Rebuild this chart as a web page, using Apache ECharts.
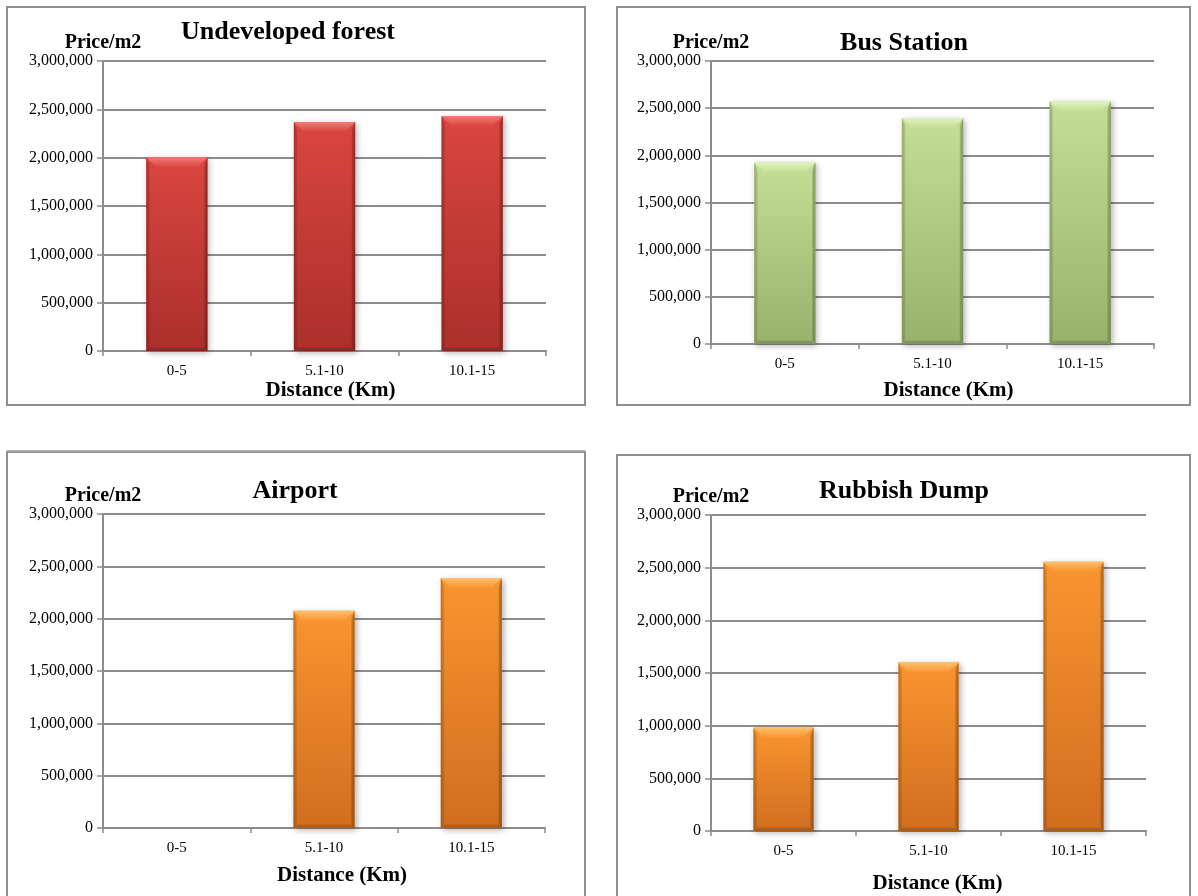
<!DOCTYPE html>
<html>
<head>
<meta charset="utf-8">
<script src="https://cdn.jsdelivr.net/npm/echarts@6/dist/echarts.min.js"></script>
<style>
  html, body { margin: 0; padding: 0; background: #ffffff; }
  #chart { width: 1198px; height: 896px; }
</style>
</head>
<body>
<div id="chart"></div>
<script>
// Land price per m2 by distance band from four kinds of facility
const distanceBands = ['0-5', '5.1-10', '10.1-15'];
const panelTitles = ['Undeveloped forest', 'Bus Station', 'Airport', 'Rubbish Dump'];
const forestPrice = [2005000, 2370000, 2430000];
const busStationPrice = [1926000, 2396000, 2572000];
const airportPrice = [null, 2075000, 2388000];
const dumpPrice = [982000, 1600000, 2557000];
const priceTicks = [0, 500000, 1000000, 1500000, 2000000, 2500000, 3000000];

const FONT = "'Liberation Serif', 'Times New Roman', serif";
const GRID_GRAY = '#8c8c8c';

// bar palettes: body top/bottom, bevel highlight, edge shade
const palettes = {
  red:    { top: '#d9463f', bottom: '#ab2f2b', bevel: '#f27c74', edge: '#7d1d1b' },
  green:  { top: '#c4de95', bottom: '#98b26b', bevel: '#e2f3bf', edge: '#6f8a4a' },
  orange: { top: '#f9952f', bottom: '#d06e1f', bevel: '#ffc070', edge: '#97500f' }
};

// panel layout: frame box, plot box, and text anchors
const panels = [
  { values: forestPrice, pal: 'red',
    frame: [7, 7, 578, 398], grid: [103, 61, 443, 290],
    title: [288, 32], nameGap: 29, nameShift: 6 },
  { values: busStationPrice, pal: 'green',
    frame: [617, 7, 573, 398], grid: [711, 61, 443, 283],
    title: [904, 43], nameGap: 36, nameShift: 16 },
  { values: airportPrice, pal: 'orange',
    frame: [7, 452, 578, 460], grid: [103, 514, 442, 314],
    title: [295, 491], nameGap: 37, nameShift: 18 },
  { values: dumpPrice, pal: 'orange',
    frame: [617, 455, 573, 460], grid: [711, 515, 435, 316],
    title: [904, 491], nameGap: 42, nameShift: 9 }
];

function fmt(v) {
  return v.toLocaleString('en-US');
}

function makeRenderer(pal) {
  return function (params, api) {
    const v = api.value(1);
    if (v == null || isNaN(v)) return null;
    const idx = api.value(0);
    const topPt = api.coord([idx, v]);
    const basePt = api.coord([idx, 0]);
    const w = api.size([1, 0])[0] * 0.415;
    const x0 = topPt[0] - w / 2;
    const x1 = x0 + w;
    const y0 = topPt[1];
    const y1 = basePt[1];
    const h = y1 - y0;
    const b = Math.min(10, h / 3);
    const side = 4;
    return {
      type: 'group',
      children: [
        {
          type: 'rect',
          shape: { x: x0, y: y0, width: w, height: h },
          style: {
            fill: new echarts.graphic.LinearGradient(0, 0, 0, 1, [
              { offset: 0, color: pal.top },
              { offset: 1, color: pal.bottom }
            ]),
            shadowBlur: 6,
            shadowColor: 'rgba(0,0,0,0.3)',
            shadowOffsetX: 2,
            shadowOffsetY: 2
          }
        },
        {
          // top bevel
          type: 'polygon',
          shape: { points: [[x0, y0], [x1, y0], [x1 - b, y0 + b], [x0 + b, y0 + b]] },
          style: {
            fill: new echarts.graphic.LinearGradient(0, 0, 0, 1, [
              { offset: 0, color: pal.bevel },
              { offset: 1, color: pal.top }
            ])
          }
        },
        {
          // left edge shade
          type: 'polygon',
          shape: { points: [[x0, y0], [x0 + side, y0 + b], [x0 + side, y1 - side], [x0, y1]] },
          style: {
            fill: new echarts.graphic.LinearGradient(0, 0, 1, 0, [
              { offset: 0, color: pal.edge },
              { offset: 1, color: 'rgba(0,0,0,0)' }
            ]),
            opacity: 0.45
          }
        },
        {
          // right edge shade
          type: 'polygon',
          shape: { points: [[x1, y0], [x1 - side, y0 + b], [x1 - side, y1 - side], [x1, y1]] },
          style: {
            fill: new echarts.graphic.LinearGradient(1, 0, 0, 0, [
              { offset: 0, color: pal.edge },
              { offset: 1, color: 'rgba(0,0,0,0)' }
            ]),
            opacity: 0.65
          }
        },
        {
          // bottom edge shade
          type: 'polygon',
          shape: { points: [[x0, y1], [x0 + side, y1 - side], [x1 - side, y1 - side], [x1, y1]] },
          style: {
            fill: new echarts.graphic.LinearGradient(0, 1, 0, 0, [
              { offset: 0, color: pal.edge },
              { offset: 1, color: 'rgba(0,0,0,0)' }
            ]),
            opacity: 0.5
          }
        }
      ]
    };
  };
}

const grids = [], xAxes = [], yAxes = [], series = [], graphics = [];

panels.forEach(function (p, i) {
  grids.push({ left: p.grid[0], top: p.grid[1], width: p.grid[2], height: p.grid[3], containLabel: false });

  xAxes.push({
    type: 'category',
    gridIndex: i,
    data: distanceBands,
    name: 'Distance (Km)',
    nameLocation: 'middle',
    nameGap: p.nameGap,
    nameTextStyle: {
      fontFamily: FONT, fontSize: 21, fontWeight: 'bold', color: '#000',
      padding: [0, 0, 0, p.nameShift * 2]
    },
    axisLine: { lineStyle: { color: GRID_GRAY, width: 2 } },
    axisTick: { show: true, length: 5, lineStyle: { color: GRID_GRAY, width: 1.5 } },
    axisLabel: { fontFamily: FONT, fontSize: 15, color: '#000', margin: 13 },
    splitLine: { show: false }
  });

  yAxes.push({
    type: 'value',
    gridIndex: i,
    min: priceTicks[0],
    max: priceTicks[priceTicks.length - 1],
    interval: priceTicks[1] - priceTicks[0],
    name: 'Price/m2',
    nameLocation: 'end',
    nameGap: 5,
    nameTextStyle: { fontFamily: FONT, fontSize: 20, fontWeight: 'bold', color: '#000', align: 'center' },
    axisLine: { show: true, lineStyle: { color: GRID_GRAY, width: 2 } },
    axisTick: { show: true, length: 6, lineStyle: { color: GRID_GRAY, width: 1.5 } },
    axisLabel: { fontFamily: FONT, fontSize: 16, color: '#000', margin: 10, formatter: fmt },
    splitLine: { show: true, lineStyle: { color: GRID_GRAY, width: 2 } }
  });

  series.push({
    type: 'custom',
    name: panelTitles[i],
    xAxisIndex: i,
    yAxisIndex: i,
    encode: { x: 0, y: 1 },
    data: p.values.map(function (v, k) { return [k, v]; }),
    renderItem: makeRenderer(palettes[p.pal]),
    z: 3
  });

  graphics.push({
    type: 'rect',
    shape: { x: p.frame[0], y: p.frame[1], width: p.frame[2], height: p.frame[3] },
    style: { fill: 'none', stroke: '#8e8e8e', lineWidth: 2 },
    z: 0
  });

  graphics.push({
    type: 'text',
    x: p.title[0],
    y: p.title[1],
    style: {
      text: panelTitles[i],
      font: 'bold 26px ' + FONT,
      fill: '#000',
      align: 'center',
      verticalAlign: 'middle'
    },
    z: 5
  });
});

// heavier top rule on the lower-left frame
graphics.push({
  type: 'line',
  shape: { x1: 7, y1: 451, x2: 585, y2: 451 },
  style: { stroke: '#a8a8a8', lineWidth: 2 },
  z: 0
});

const chart = echarts.init(document.getElementById('chart'), null, { renderer: 'canvas' });
chart.setOption({
  backgroundColor: '#ffffff',
  animation: false,
  grid: grids,
  xAxis: xAxes,
  yAxis: yAxes,
  series: series,
  graphic: graphics
});
</script>
</body>
</html>
